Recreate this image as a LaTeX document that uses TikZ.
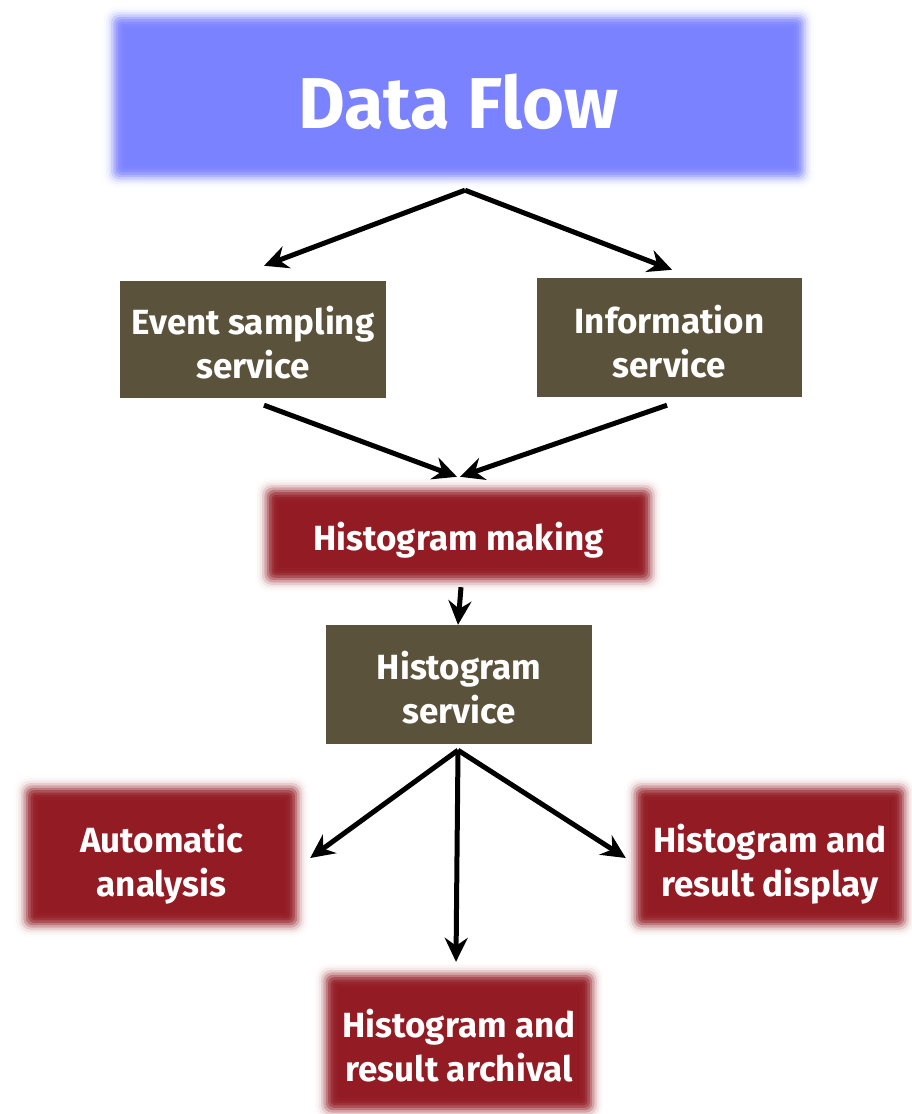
\documentclass[tikz,border=0pt]{standalone}
\usepackage{fontspec}
\setmainfont{Fira Sans}
\usetikzlibrary{arrows.meta}
\pgfdeclarelayer{bg}
\pgfsetlayers{bg,main}
\definecolor{titleblue}{HTML}{7B82FF}
\definecolor{svcbrown}{HTML}{5A523A}
\definecolor{procred}{HTML}{931C24}
\tikzset{
  boxbase/.style={rectangle, inner sep=0pt, text=white, align=center,
    font=\bfseries\fontsize{35}{44}\selectfont},
  titlebox/.style={boxbase, font=\bfseries\fontsize{72}{76}\selectfont},
  svcbox/.style={boxbase, fill=svcbrown},
  procbox/.style={boxbase},
  arr/.style={draw=black, line width=5pt,
    -{Stealth[length=24pt, width=23pt, inset=8pt]}}
}
\newcommand\dn[2]{\raisebox{-#1pt}[\height][\depth]{#2}}
\newcommand\blurfill[2]{%
  \foreach \d/\a in {12/0.012, 9.6/0.028, 7.2/0.069, 4.8/0.135, 2.4/0.224,
      0/0.333, -2.4/0.425, -4.8/0.539, -7.2/0.623, -9.6/0.70, -12/1}{%
    \pgfmathsetmacro\nd{0-(\d)}%
    \pgfmathsetmacro\rr{max(0.01,(\d+12)*0.6)}%
    \fill[#2, opacity=\a, rounded corners=\rr pt]
      ([shift={(\nd pt,\d pt)}]#1.north west) rectangle ([shift={(\d pt,\nd pt)}]#1.south east);
  }%
}
\begin{document}
\begin{tikzpicture}[x=1pt, y=-1pt]
\useasboundingbox (0,0) rectangle (911,1114);

\node[titlebox, minimum width=690pt, minimum height=160pt] (title) at (458.5,97) {\dn{5}{Data Flow}};
\node[svcbox, minimum width=266pt, minimum height=117pt] (es) at (253,339.5) {\dn{3}{Event sampling}\\\dn{3}{service}};
\node[svcbox, minimum width=265pt, minimum height=119pt] (info) at (669.5,337.5) {\dn{4}{Information}\\\dn{4}{service}};
\node[procbox, minimum width=383pt, minimum height=90pt] (hm) at (458.5,535) {\dn{5}{Histogram making}};
\node[svcbox, minimum width=266pt, minimum height=119pt] (hs) at (459,684.5) {\dn{3}{Histogram}\\\dn{3}{service}};
\node[procbox, minimum width=271pt, minimum height=137pt] (auto) at (161.5,856.5) {\dn{8}{Automatic}\\\dn{8}{analysis}};
\node[procbox, minimum width=268pt, minimum height=137pt] (disp) at (770,856.5) {\dn{8}{Histogram and}\\\dn{8}{result display}};
\node[procbox, minimum width=266pt, minimum height=135pt] (arch) at (459,1042.5) {\dn{3}{Histogram and}\\\dn{3}{result archival}};

\begin{pgfonlayer}{bg}
\blurfill{title}{titleblue}
\blurfill{hm}{procred}
\blurfill{auto}{procred}
\blurfill{disp}{procred}
\blurfill{arch}{procred}
\end{pgfonlayer}

\draw[arr] ([shift={(6.5pt,-13pt)}]title.south) -- ([shift={(11pt,15pt)}]es.north);
\draw[arr] ([shift={(6.5pt,-13pt)}]title.south) -- ([shift={(2.5pt,8pt)}]info.north);
\draw[arr] ([shift={(11pt,-7pt)}]es.south) -- ([shift={(-1.5pt,13pt)}]hm.north);
\draw[arr] ([shift={(-2.5pt,-8pt)}]info.south) -- ([shift={(1.5pt,13pt)}]hm.north);
\draw[arr] ([shift={(2.5pt,-7pt)}]hm.south) -- ([shift={(-1pt,0pt)}]hs.north);
\draw[arr] ([shift={(-1pt,-6pt)}]hs.south) -- ([shift={(13pt,-1.5pt)}]auto.east);
\draw[arr] ([shift={(-1pt,-6pt)}]hs.south) -- ([shift={(-3pt,13pt)}]arch.north);
\draw[arr] ([shift={(-1pt,-6pt)}]hs.south) -- ([shift={(-10pt,-1.5pt)}]disp.west);
\end{tikzpicture}
\end{document}
